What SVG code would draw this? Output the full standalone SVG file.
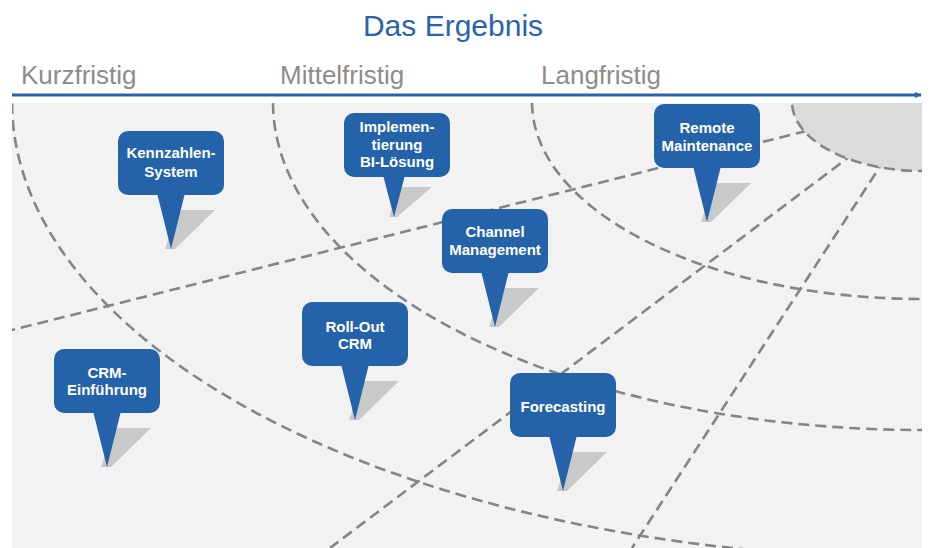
<svg xmlns="http://www.w3.org/2000/svg" xmlns:xlink="http://www.w3.org/1999/xlink" width="930" height="548" viewBox="0 0 930 548">
<style>
.title{font-family:"Liberation Sans",Arial,sans-serif;font-size:30px;fill:#2a63ab}
.phase{font-family:"Liberation Sans",Arial,sans-serif;font-size:26px;fill:#8c8c8c}
.lbl{font-family:"Liberation Sans",Arial,sans-serif;font-size:15px;font-weight:bold;fill:#ffffff;text-anchor:middle}
.dash{fill:none;stroke:#858585;stroke-width:2.6;stroke-dasharray:11 6}
.box{fill:#2462aa}
.shadow{fill:#c9c9c9}
</style>
<defs>
<clipPath id="panelClip"><rect x="12" y="103" width="910" height="445"/></clipPath>
<marker id="arr" markerWidth="8" markerHeight="8" refX="6" refY="3" orient="auto" markerUnits="userSpaceOnUse">
<path d="M0,0 L7,3 L0,6 Z" fill="#2a63ab"/>
</marker>
<g id="pin">
<polygon class="shadow" points="60,79 97,79 57,118 47,118"/>
<polygon class="box" points="39,62 67,62 53,118"/>
<rect class="box" x="0" y="0" width="106" height="64" rx="10"/>
</g>
<g id="pinShort">
<polygon class="shadow" points="55,74 88,74 53,104 45,104"/>
<polygon class="box" points="39,62 61,62 50,104"/>
<rect class="box" x="0" y="0" width="106" height="64" rx="10"/>
</g>
</defs>

<text class="title" x="453" y="36" text-anchor="middle">Das Ergebnis</text>
<text class="phase" x="21" y="84">Kurzfristig</text>
<text class="phase" x="280" y="84">Mittelfristig</text>
<text class="phase" x="541" y="84">Langfristig</text>
<line x1="12" y1="95" x2="921" y2="95" stroke="#2a63ab" stroke-width="3" marker-end="url(#arr)"/>

<rect x="12" y="103" width="910" height="445" fill="#f2f2f2"/>

<g id="connectors" clip-path="url(#panelClip)">
<ellipse class="dash" cx="922" cy="102" rx="910" ry="456"/>
<ellipse class="dash" cx="922" cy="102" rx="649" ry="328"/>
<ellipse class="dash" cx="922" cy="102" rx="390" ry="197"/>
<line class="dash" x1="922" y1="102" x2="12" y2="330"/>
<line class="dash" x1="922" y1="102" x2="330" y2="548"/>
<line class="dash" x1="922" y1="102" x2="632" y2="548"/>
<ellipse cx="922" cy="102" rx="130" ry="69" fill="#dadbdb"/>
<ellipse class="dash" cx="922" cy="102" rx="130" ry="69"/>
</g>

<g id="node-kennzahlen">
<use xlink:href="#pin" href="#pin" x="118" y="131"/>
<text class="lbl" x="171" y="158">Kennzahlen-</text>
<text class="lbl" x="171" y="177">System</text>
</g>
<g id="node-implementierung">
<use xlink:href="#pinShort" href="#pinShort" x="344" y="113"/>
<text class="lbl" x="397" y="132">Implemen-</text>
<text class="lbl" x="397" y="149.5">tierung</text>
<text class="lbl" x="397" y="167">BI-Lösung</text>
</g>
<g id="node-remote">
<use xlink:href="#pin" href="#pin" x="654" y="104"/>
<text class="lbl" x="707" y="133">Remote</text>
<text class="lbl" x="707" y="151">Maintenance</text>
</g>
<g id="node-channel">
<use xlink:href="#pin" href="#pin" x="442" y="209"/>
<text class="lbl" x="495" y="237">Channel</text>
<text class="lbl" x="495" y="255">Management</text>
</g>
<g id="node-rollout">
<use xlink:href="#pin" href="#pin" x="302" y="302"/>
<text class="lbl" x="355" y="331.5">Roll-Out</text>
<text class="lbl" x="355" y="348.5">CRM</text>
</g>
<g id="node-crm">
<use xlink:href="#pin" href="#pin" x="54" y="349"/>
<text class="lbl" x="107" y="377.5">CRM-</text>
<text class="lbl" x="107" y="395">Einführung</text>
</g>
<g id="node-forecasting">
<use xlink:href="#pin" href="#pin" x="510" y="373"/>
<text class="lbl" x="563" y="411.5">Forecasting</text>
</g>
</svg>
